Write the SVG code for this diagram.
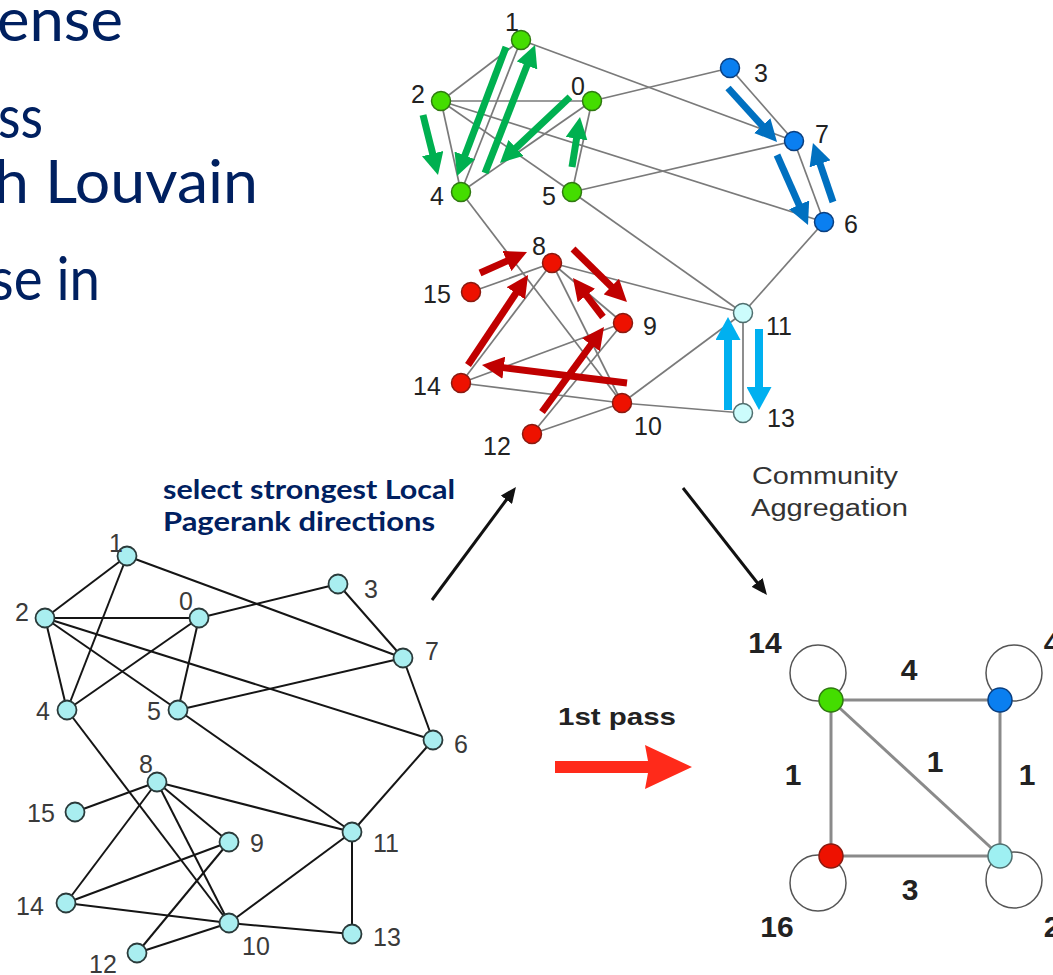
<svg xmlns="http://www.w3.org/2000/svg" width="1053" height="975" viewBox="0 0 1053 975">
<defs>
<style>
.big{font-family:"Lato","Open Sans",sans-serif;font-size:60px;fill:#002060}
.sel{font-family:"Lato","Open Sans",sans-serif;font-size:26px;font-weight:bold;fill:#002060}
.lb{font-family:"Liberation Sans",Arial,sans-serif;font-size:25px;fill:#222;text-anchor:middle}
.lb2{font-family:"Liberation Sans",Arial,sans-serif;font-size:25px;fill:#3a3a3a;text-anchor:middle}
.wl{font-family:"Liberation Sans",Arial,sans-serif;font-size:30px;font-weight:bold;fill:#222;text-anchor:middle}
.cap{font-family:"Liberation Sans",Arial,sans-serif;font-size:23px;fill:#333}
.te{stroke:#7a7a7a;stroke-width:1.7;fill:none}
.be{stroke:#151515;stroke-width:2;fill:none}
.re{stroke:#8a8a8a;stroke-width:3;fill:none}
.loop{stroke:#555;stroke-width:1.5;fill:none}
.g{fill:#44dd00;stroke:#2f7a10;stroke-width:1.5}
.b{fill:#0a7ff0;stroke:#0a3f80;stroke-width:1.5}
.r{fill:#ee1100;stroke:#8a1a10;stroke-width:1.5}
.c{fill:#ccfcfc;stroke:#4f6f6f;stroke-width:1.5}
.bc{fill:#a9eef0;stroke:#2a3a3a;stroke-width:1.8}
.ga{stroke:#00b050;stroke-width:7;fill:none;marker-end:url(#hg)}
.ba{stroke:#0070c0;stroke-width:7;fill:none;marker-end:url(#hb)}
.ra{stroke:#c00000;stroke-width:7;fill:none;marker-end:url(#hr)}
.ca{stroke:#00b0f0;stroke-width:8;fill:none;marker-end:url(#hc)}
.ka{stroke:#111;stroke-width:3;fill:none;marker-end:url(#hk)}
</style>
<marker id="hg" viewBox="0 -11 22 22" refX="1" refY="0" markerWidth="22" markerHeight="22" markerUnits="userSpaceOnUse" orient="auto"><path d="M0,-11 L22,0 L0,11 z" fill="#00b050"/></marker>
<marker id="hb" viewBox="0 -11 22 22" refX="1" refY="0" markerWidth="22" markerHeight="22" markerUnits="userSpaceOnUse" orient="auto"><path d="M0,-11 L22,0 L0,11 z" fill="#0070c0"/></marker>
<marker id="hr" viewBox="0 -11 22 22" refX="1" refY="0" markerWidth="22" markerHeight="22" markerUnits="userSpaceOnUse" orient="auto"><path d="M0,-11 L22,0 L0,11 z" fill="#c00000"/></marker>
<marker id="hc" viewBox="0 -12.5 23 25" refX="1" refY="0" markerWidth="23" markerHeight="25" markerUnits="userSpaceOnUse" orient="auto"><path d="M0,-12.5 L23,0 L0,12.5 z" fill="#00b0f0"/></marker>
<marker id="hk" viewBox="0 -7 16 14" refX="1" refY="0" markerWidth="16" markerHeight="14" markerUnits="userSpaceOnUse" orient="auto"><path d="M0,-7 L16,0 L0,7 z" fill="#111"/></marker>
</defs>
<rect width="1053" height="975" fill="#ffffff"/>

<g id="slide-text">
<text class="big" x="-3" y="41" textLength="126" lengthAdjust="spacingAndGlyphs">ense</text>
<text class="big" x="-2" y="138" textLength="45" lengthAdjust="spacingAndGlyphs">ss</text>
<text class="big" x="-6" y="203" textLength="264" lengthAdjust="spacingAndGlyphs">h Louvain</text>
<text class="big" x="-10" y="300" textLength="110" lengthAdjust="spacingAndGlyphs">se in</text>
<text class="sel" x="163" y="499" textLength="292" lengthAdjust="spacingAndGlyphs">select strongest Local</text>
<text class="sel" x="163" y="531" textLength="272" lengthAdjust="spacingAndGlyphs">Pagerank directions</text>
<text class="cap" x="752" y="484" textLength="146" lengthAdjust="spacingAndGlyphs">Community</text>
<text class="cap" x="751" y="516" textLength="157" lengthAdjust="spacingAndGlyphs">Aggregation</text>
<text x="558" y="725" font-family="Liberation Sans, Arial, sans-serif" font-size="24" font-weight="bold" fill="#222" textLength="118" lengthAdjust="spacingAndGlyphs">1st pass</text>
</g>

<g id="connectors">
<!-- top graph edges -->
<g id="top-edges" class="te">
<line x1="592" y1="101" x2="441" y2="101"/>
<line x1="592" y1="101" x2="730" y2="68"/>
<line x1="592" y1="101" x2="461" y2="192"/>
<line x1="592" y1="101" x2="572" y2="192"/>
<line x1="521" y1="40" x2="441" y2="101"/>
<line x1="521" y1="40" x2="461" y2="192"/>
<line x1="521" y1="40" x2="794" y2="141"/>
<line x1="441" y1="101" x2="461" y2="192"/>
<line x1="441" y1="101" x2="572" y2="192"/>
<line x1="441" y1="101" x2="824" y2="222"/>
<line x1="730" y1="68" x2="794" y2="141"/>
<line x1="461" y1="192" x2="622" y2="403"/>
<line x1="572" y1="192" x2="794" y2="141"/>
<line x1="572" y1="192" x2="743" y2="313"/>
<line x1="824" y1="222" x2="794" y2="141"/>
<line x1="824" y1="222" x2="743" y2="313"/>
<line x1="552" y1="263" x2="623" y2="323"/>
<line x1="552" y1="263" x2="622" y2="403"/>
<line x1="552" y1="263" x2="743" y2="313"/>
<line x1="552" y1="263" x2="461" y2="383"/>
<line x1="552" y1="263" x2="471" y2="292"/>
<line x1="623" y1="323" x2="532" y2="434"/>
<line x1="623" y1="323" x2="461" y2="383"/>
<line x1="622" y1="403" x2="743" y2="313"/>
<line x1="622" y1="403" x2="532" y2="434"/>
<line x1="622" y1="403" x2="743" y2="413"/>
<line x1="622" y1="403" x2="461" y2="383"/>
<line x1="743" y1="313" x2="743" y2="413"/>
</g>
<!-- bottom-left graph edges -->
<g id="bl-edges" class="be">
<line x1="199" y1="618" x2="45" y2="618"/>
<line x1="199" y1="618" x2="338" y2="584"/>
<line x1="199" y1="618" x2="67" y2="710"/>
<line x1="199" y1="618" x2="178" y2="710"/>
<line x1="127" y1="556" x2="45" y2="618"/>
<line x1="127" y1="556" x2="67" y2="710"/>
<line x1="127" y1="556" x2="403" y2="658"/>
<line x1="45" y1="618" x2="67" y2="710"/>
<line x1="45" y1="618" x2="178" y2="710"/>
<line x1="45" y1="618" x2="433" y2="740"/>
<line x1="338" y1="584" x2="403" y2="658"/>
<line x1="67" y1="710" x2="229" y2="923"/>
<line x1="178" y1="710" x2="403" y2="658"/>
<line x1="178" y1="710" x2="352" y2="832"/>
<line x1="433" y1="740" x2="403" y2="658"/>
<line x1="433" y1="740" x2="352" y2="832"/>
<line x1="157" y1="782" x2="229" y2="842"/>
<line x1="157" y1="782" x2="229" y2="923"/>
<line x1="157" y1="782" x2="352" y2="832"/>
<line x1="157" y1="782" x2="66" y2="903"/>
<line x1="157" y1="782" x2="75" y2="812"/>
<line x1="229" y1="842" x2="137" y2="953"/>
<line x1="229" y1="842" x2="66" y2="903"/>
<line x1="229" y1="923" x2="352" y2="832"/>
<line x1="229" y1="923" x2="137" y2="953"/>
<line x1="229" y1="923" x2="352" y2="934"/>
<line x1="229" y1="923" x2="66" y2="903"/>
<line x1="352" y1="832" x2="352" y2="934"/>
</g>
<!-- aggregated graph edges -->
<g id="agg-edges">
<circle class="loop" cx="818" cy="673" r="28"/>
<circle class="loop" cx="1014" cy="673" r="28"/>
<circle class="loop" cx="818" cy="883" r="28"/>
<circle class="loop" cx="1014" cy="880" r="28"/>
<line class="re" x1="831" y1="700" x2="1000" y2="700"/>
<line class="re" x1="831" y1="700" x2="831" y2="856"/>
<line class="re" x1="1000" y1="700" x2="1000" y2="856"/>
<line class="re" x1="831" y1="856" x2="1000" y2="856"/>
<line class="re" x1="831" y1="700" x2="1000" y2="856" stroke-width="2.5"/>
</g>
<!-- flow arrows -->
<line class="ka" x1="432" y1="600" x2="507" y2="499"/>
<line class="ka" x1="683" y1="488" x2="757.7" y2="583.2"/>
<polygon id="first-pass-arrow" points="555,761 648,761 645,745 692,767 645,789 648,773 555,773" fill="#ff2a1a"/>
</g>

<g id="top-nodes">
<g id="t1"><circle class="g" cx="521" cy="40" r="9.5"/><text class="lb" x="512" y="31">1</text></g>
<g id="t2"><circle class="g" cx="441" cy="101" r="9.5"/><text class="lb" x="418" y="103">2</text></g>
<g id="t0"><circle class="g" cx="592" cy="101" r="9.5"/><text class="lb" x="578" y="95">0</text></g>
<g id="t4"><circle class="g" cx="461" cy="192" r="9.5"/><text class="lb" x="437" y="205">4</text></g>
<g id="t5"><circle class="g" cx="572" cy="192" r="9.5"/><text class="lb" x="549" y="205">5</text></g>
<g id="t3"><circle class="b" cx="730" cy="68" r="9.5"/><text class="lb" x="761" y="82">3</text></g>
<g id="t7"><circle class="b" cx="794" cy="141" r="9.5"/><text class="lb" x="822" y="143">7</text></g>
<g id="t6"><circle class="b" cx="824" cy="222" r="9.5"/><text class="lb" x="851" y="233">6</text></g>
<g id="t8"><circle class="r" cx="552" cy="263" r="9.5"/><text class="lb" x="539" y="255">8</text></g>
<g id="t15"><circle class="r" cx="471" cy="292" r="9.5"/><text class="lb" x="437" y="303">15</text></g>
<g id="t9"><circle class="r" cx="623" cy="323" r="9.5"/><text class="lb" x="650" y="335">9</text></g>
<g id="t14"><circle class="r" cx="461" cy="383" r="9.5"/><text class="lb" x="427" y="395">14</text></g>
<g id="t10"><circle class="r" cx="622" cy="403" r="9.5"/><text class="lb" x="648" y="435">10</text></g>
<g id="t12"><circle class="r" cx="532" cy="434" r="9.5"/><text class="lb" x="497" y="455">12</text></g>
<g id="t11"><circle class="c" cx="743" cy="313" r="9.5"/><text class="lb" x="779" y="335">11</text></g>
<g id="t13"><circle class="c" cx="743" cy="413" r="9.5"/><text class="lb" x="781" y="427">13</text></g>
</g>

<g id="pagerank-arrows">
<line class="ga" x1="423" y1="115" x2="432.9" y2="154.6"/>
<line class="ga" x1="506" y1="47" x2="464.5" y2="156.4"/>
<line class="ga" x1="485" y1="173" x2="527.4" y2="64.6"/>
<line class="ga" x1="570" y1="97" x2="515.3" y2="148.6"/>
<line class="ga" x1="572" y1="167" x2="576.7" y2="137.7"/>
<line class="ba" x1="728" y1="88" x2="762.9" y2="126.4"/>
<line class="ba" x1="777" y1="155" x2="799.5" y2="205.8"/>
<line class="ba" x1="833" y1="202" x2="819.7" y2="162.9"/>
<line class="ra" x1="480" y1="273" x2="507.8" y2="260.6"/>
<line class="ra" x1="468" y1="365" x2="516.4" y2="292.5"/>
<line class="ra" x1="573" y1="249" x2="612" y2="287.3"/>
<line class="ra" x1="603" y1="317" x2="585.8" y2="294.7"/>
<line class="ra" x1="627" y1="383" x2="502.8" y2="367.6"/>
<line class="ra" x1="542" y1="412" x2="591.6" y2="344"/>
<line class="ca" x1="728" y1="410" x2="728" y2="339"/>
<line class="ca" x1="759" y1="329" x2="759" y2="388"/>
</g>

<g id="bl-nodes">
<g id="b1"><circle class="bc" cx="127" cy="556" r="9.5"/><text class="lb2" x="116" y="552">1</text></g>
<g id="b2"><circle class="bc" cx="45" cy="618" r="9.5"/><text class="lb2" x="22" y="621">2</text></g>
<g id="b0"><circle class="bc" cx="199" cy="618" r="9.5" fill="#def9f9"/><text class="lb2" x="186" y="610">0</text></g>
<g id="b4"><circle class="bc" cx="67" cy="710" r="9.5"/><text class="lb2" x="43" y="720">4</text></g>
<g id="b5"><circle class="bc" cx="178" cy="710" r="9.5"/><text class="lb2" x="154" y="720">5</text></g>
<g id="b3"><circle class="bc" cx="338" cy="584" r="9.5"/><text class="lb2" x="371" y="598">3</text></g>
<g id="b7"><circle class="bc" cx="403" cy="658" r="9.5"/><text class="lb2" x="432" y="660">7</text></g>
<g id="b6"><circle class="bc" cx="433" cy="740" r="9.5"/><text class="lb2" x="461" y="753">6</text></g>
<g id="b8"><circle class="bc" cx="157" cy="782" r="9.5"/><text class="lb2" x="146" y="773">8</text></g>
<g id="b15"><circle class="bc" cx="75" cy="812" r="9.5"/><text class="lb2" x="41" y="822">15</text></g>
<g id="b9"><circle class="bc" cx="229" cy="842" r="9.5"/><text class="lb2" x="257" y="852">9</text></g>
<g id="b14"><circle class="bc" cx="66" cy="903" r="9.5"/><text class="lb2" x="30" y="915">14</text></g>
<g id="b10"><circle class="bc" cx="229" cy="923" r="9.5"/><text class="lb2" x="256" y="955">10</text></g>
<g id="b12"><circle class="bc" cx="137" cy="953" r="9.5"/><text class="lb2" x="103" y="973">12</text></g>
<g id="b11"><circle class="bc" cx="352" cy="832" r="9.5"/><text class="lb2" x="386" y="852">11</text></g>
<g id="b13"><circle class="bc" cx="352" cy="934" r="9.5"/><text class="lb2" x="387" y="946">13</text></g>
</g>

<g id="agg-nodes">
<g id="a-green"><circle cx="831" cy="700" r="12" fill="#44dd00" stroke="#2f7a10" stroke-width="1.5"/><text class="wl" x="765" y="653">14</text></g>
<g id="a-blue"><circle cx="1000" cy="700" r="12" fill="#0a7ff0" stroke="#0a3f80" stroke-width="1.5"/><text class="wl" x="1052" y="653">4</text></g>
<g id="a-red"><circle cx="831" cy="856" r="12" fill="#ee1100" stroke="#8a1a10" stroke-width="1.5"/><text class="wl" x="777" y="937">16</text></g>
<g id="a-cyan"><circle cx="1000" cy="856" r="12" fill="#9ef0f2" stroke="#4f6f6f" stroke-width="1.5"/><text class="wl" x="1052" y="937">2</text></g>
<g id="agg-weights">
<text class="wl" x="909" y="680">4</text>
<text class="wl" x="793" y="785">1</text>
<text class="wl" x="935" y="772">1</text>
<text class="wl" x="1027" y="785">1</text>
<text class="wl" x="910" y="900">3</text>
</g>
</g>
</svg>
